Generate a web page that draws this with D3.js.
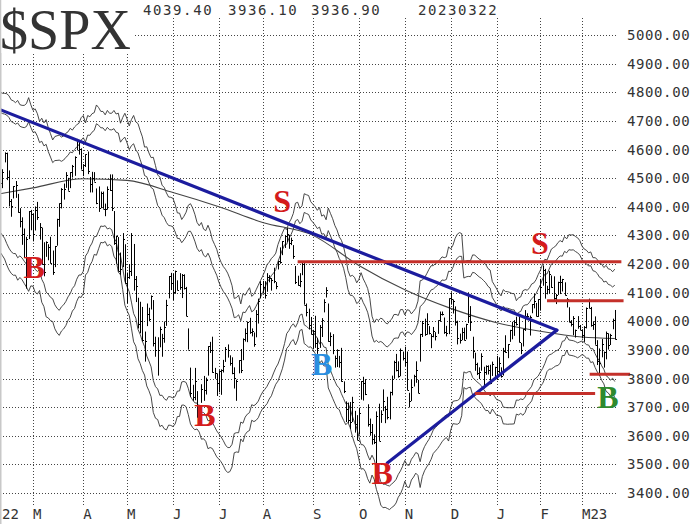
<!DOCTYPE html>
<html><head><meta charset="utf-8">
<script src="https://cdn.jsdelivr.net/npm/d3@7"></script>
<style>body{margin:0;background:#fff}</style>
</head><body><svg id="c" width="700" height="524"></svg>
<script>
// Daily HLC, trading days from 2022-01-03 to 2023-03-22
const monthLabels = ["J22","22","M","A","M","J","J","A","S","O","N","D","J","F","M23"];
const monthDays   = [20,19,23,20,21,21,20,23,21,21,21,21,20,19,16];
const closes = [
4797,4794,4701,4696,4677,4670,4713,4726,4660,4663,4577,4533,4483,4398,4410,4357,4350,4326,4432,4516,
4546,4589,4477,4501,4484,4521,4587,4504,4419,4401,4472,4475,4380,4349,4304,4226,4288,4385,4374,
4306,4387,4363,4329,4201,4171,4278,4260,4204,4173,4262,4358,4412,4463,4461,4512,4456,4520,4543,4575,4632,4602,4530,
4546,4583,4525,4481,4500,4488,4413,4397,4447,4393,4391,4463,4460,4394,4272,4297,4175,4183,4288,4132,
4155,4175,4300,4147,4123,3991,4001,3935,3930,4024,4008,4088,3924,3901,3901,3974,3941,3979,4058,4158,4132,
4101,4177,4109,4121,4161,4116,4018,3901,3750,3735,3790,3667,3675,3765,3760,3796,3912,3900,3821,3819,3785,
3825,3831,3845,3903,3899,3855,3819,3801,3790,3863,3831,3937,3960,3999,3962,3967,3921,4024,4072,4130,
4119,4091,4155,4152,4145,4140,4122,4210,4208,4280,4297,4305,4275,4284,4228,4138,4128,4141,4199,4058,4031,3986,3955,
3967,3924,3908,3980,4006,4067,4110,3932,3947,3901,3873,3900,3856,3790,3758,3693,3655,3647,3719,3640,3586,
3678,3791,3783,3745,3640,3612,3589,3577,3669,3583,3677,3720,3695,3666,3752,3797,3859,3831,3807,3901,3872,
3856,3759,3720,3771,3807,3828,3749,3956,3993,3957,3992,3959,3947,3965,3950,4003,4027,4026,3964,3958,4080,
4077,4072,3999,3941,3933,3963,3934,3991,4020,3996,3896,3852,3818,3821,3879,3822,3845,3829,3783,3849,3840,
3825,3853,3808,3895,3893,3919,3970,3983,3999,3991,3928,3899,3973,4020,4017,4016,4060,4071,4018,4077,
4119,4180,4136,4111,4164,4118,4082,4090,4137,4136,4148,4090,4079,3997,3991,4012,3970,3982,3970,
3951,3981,4046,4048,3986,3992,3918,3862,3855,3920,3892,3960,3917,3951,4003,3936.9];
const highs = [
4797,4819,4798,4725,4708,4672,4714,4749,4745,4666,4632,4612,4564,4495,4418,4405,4453,4428,4432,4517,
4546,4595,4543,4529,4540,4531,4590,4589,4527,4427,4472,4490,4445,4395,4363,4324,4295,4385,4389,
4375,4401,4417,4343,4327,4276,4279,4269,4295,4247,4263,4358,4412,4465,4481,4521,4501,4521,4546,4576,4637,4627,4604,
4549,4583,4593,4504,4522,4521,4464,4471,4453,4453,4411,4471,4513,4513,4385,4299,4294,4240,4308,4269,
4170,4200,4308,4270,4158,4082,4068,4050,3964,4062,4047,4090,4074,3946,3944,3981,3956,3999,4075,4158,4169,
4166,4177,4143,4168,4165,4164,4120,3975,3838,3778,3837,3756,3708,3780,3809,3803,3913,3928,3946,3837,3818,
3829,3832,3865,3910,3919,3881,3874,3839,3796,3864,3903,3940,3975,3999,4012,3975,3961,4039,4079,4140,
4141,4140,4168,4161,4151,4187,4137,4211,4258,4280,4301,4325,4302,4292,4266,4193,4159,4168,4204,4203,4062,4044,4015,
3970,4019,3942,3987,4011,4077,4119,4062,3961,3955,3880,3902,3879,3907,3790,3720,3716,3718,3736,3687,3672,
3698,3791,3806,3798,3710,3660,3641,3605,3685,3712,3689,3762,3704,3736,3754,3810,3862,3886,3860,3905,3894,
3911,3894,3750,3796,3813,3860,3795,3956,4001,4009,4028,3983,3955,3980,3962,4003,4034,4034,4013,3984,4080,
4101,4076,4052,4002,3957,3977,3978,3991,4101,4053,3946,3890,3855,3839,3888,3841,3846,3846,3848,3859,3841,
3879,3874,3839,3907,3951,3920,3970,3998,4004,4016,4015,3924,3973,4039,4028,4020,4060,4095,4064,4077,
4148,4195,4183,4124,4176,4160,4157,4095,4138,4159,4148,4136,4081,4049,4004,4018,3971,4018,3987,
3972,3983,4048,4079,4050,4000,4017,3934,3905,3938,3894,3964,3958,3956,4009,4039.4];
const lows = [
4758,4774,4700,4671,4663,4582,4637,4709,4660,4615,4569,4531,4480,4395,4222,4351,4305,4309,4287,4417,
4484,4545,4470,4451,4475,4465,4555,4493,4401,4365,4429,4431,4379,4328,4267,4222,4114,4287,4318,
4279,4317,4354,4285,4199,4157,4225,4213,4202,4162,4189,4264,4330,4394,4425,4466,4456,4465,4502,4508,4597,4582,4530,
4507,4539,4514,4450,4450,4488,4409,4382,4395,4393,4367,4390,4455,4385,4267,4201,4175,4162,4189,4132,
4063,4148,4158,4107,4067,3975,3958,3929,3859,3983,4000,4041,3912,3876,3810,3909,3876,3925,3984,4080,4109,
4074,4096,4108,4110,4081,4111,4018,3901,3735,3722,3724,3664,3640,3715,3722,3744,3810,3889,3820,3799,3739,
3752,3743,3821,3858,3873,3845,3815,3765,3722,3818,3819,3864,3929,3927,3956,3947,3911,3944,3992,4080,
4097,4079,4103,4136,4107,4133,4112,4181,4201,4231,4256,4277,4253,4266,4218,4130,4124,4119,4161,4058,4017,3971,3954,
3904,3907,3886,3907,3945,4031,4083,3928,3913,3885,3838,3840,3838,3789,3749,3648,3645,3624,3648,3611,3585,
3604,3726,3723,3742,3632,3600,3569,3571,3491,3582,3645,3686,3644,3657,3657,3741,3799,3825,3803,3808,3863,
3843,3759,3699,3721,3772,3785,3749,3859,3945,3949,3953,3954,3906,3944,3933,3956,3998,4020,3956,3947,3955,
4058,4027,3985,3919,3922,3934,3933,3937,3994,3966,3870,3827,3812,3798,3827,3765,3813,3814,3780,3809,3801,
3795,3819,3803,3810,3890,3871,3928,3937,3949,3985,3926,3885,3912,3966,4004,3950,4028,4045,4017,4015,
4037,4124,4079,4094,4097,4117,4070,4060,4092,4095,4104,4090,4048,3997,3982,3951,3943,3974,3969,
3940,3928,3975,4045,3981,3970,3918,3847,3809,3874,3838,3867,3901,3917,3972,3936.1];
const lastDate = "20230322";
const priceTicks = d3.range(3400, 5001, 100);
// 200-day moving average read at each month start (F22..M23) and at the last day
const ma200 = [4440,4466,4498,4492,4450,4400,4345,4300,4195,4110,4045,3995,3965,3945,3940];
// Volatility bands: sigma multiples around the 20-day average
const bandSigmas = [4, 3, -3, -4];
// Trend lines: [trading-day index, price]
const trendLines = [[[23,4742],[278.5,3969]], [[201,3505],[278.5,3969]]];
// Horizontal levels: [fromIndex, toIndex, price]
const levels = [[160,308,4208],[274,309,4072],[293.5,312,3815],[241,296,3748]];
// Signals: [letter, index, price, colour]
const signals = [["B",39.5,4190,"#d41c1c"],["S",152.9,4420,"#d41c1c"],["B",171,3851,"#2a8ee0"],
  ["B",117.6,3673,"#d41c1c"],["B",198.6,3470,"#d41c1c"],["S",270.8,4273,"#d41c1c"],["B",301.9,3735,"#2e8a2e"]];

const svg = d3.select("#c");
const x = d3.scaleLinear().domain([39, 290]).range([33, 582]);
const y = d3.scaleLinear().domain([3400, 5000]).range([493, 35]);
const plotRight = 617, gridTop = 18, gridBottom = 505;
const monthStart = [0, ...d3.cumsum(monthDays)].slice(0, monthDays.length);
const lastIdx = closes.length - 1;

svg.append("rect").attr("width",700).attr("height",524).attr("fill","#fff");
svg.append("defs").append("clipPath").attr("id","clip").append("rect")
  .attr("x",0).attr("y",0).attr("width",plotRight+6).attr("height",524);

// grid
const grid = svg.append("g").attr("stroke","#444").attr("stroke-width",1).attr("stroke-dasharray","1,2");
grid.selectAll("line.h").data(priceTicks).join("line")
  .attr("x1",0).attr("x2",plotRight).attr("y1",d=>Math.round(y(d))+0.5).attr("y2",d=>Math.round(y(d))+0.5);
grid.selectAll("line.v").data(monthStart.filter(i=>x(i)>=0)).join("line")
  .attr("x1",d=>Math.round(x(d))+0.5).attr("x2",d=>Math.round(x(d))+0.5).attr("y1",gridTop).attr("y2",gridBottom);

const plot = svg.append("g").attr("clip-path","url(#clip)");

// volatility bands: 20-day average of closes +/- k * (1.22 * 20-day deviation of daily log returns)
const N = 20;
const bandData = bandSigmas.map(k => {
  const pts = [];
  for (let i = N; i <= lastIdx; i++) {
    const m = d3.mean(closes.slice(i-N+1, i+1));
    const rets = d3.range(i-N+1, i+1).map(j => Math.log(closes[j]/closes[j-1]));
    const s = d3.deviation(rets) * 1.22;
    pts.push([i, m * (1 + k*s)]);
  }
  return pts;
});
const lineGen = d3.line().x(d=>x(d[0])).y(d=>y(d[1]));
plot.selectAll("path.band").data(bandData).join("path")
  .attr("fill","none").attr("stroke","#333").attr("stroke-width",0.9).attr("d",lineGen);

// 200-day MA
const maPts = ma200.map((v,j)=> [j < ma200.length-1 ? monthStart[j+1] : lastIdx, v]);
plot.append("path").datum(maPts).attr("fill","none").attr("stroke","#444").attr("stroke-width",1.1)
  .attr("d", d3.line().x(d=>x(d[0])).y(d=>y(d[1])).curve(d3.curveMonotoneX));

// HLC bars
const idx = d3.range(0, closes.length).filter(i => x(i) >= -1);
const bars = plot.append("g").attr("stroke","#000").attr("stroke-width",1);
bars.selectAll("line.hl").data(idx).join("line")
  .attr("x1",i=>Math.round(x(i))+0.5).attr("x2",i=>Math.round(x(i))+0.5)
  .attr("y1",i=>y(highs[i])).attr("y2",i=>y(lows[i]));
bars.selectAll("line.c").data(idx).join("line")
  .attr("x1",i=>Math.round(x(i))+0.5).attr("x2",i=>Math.round(x(i))+2)
  .attr("y1",i=>Math.round(y(closes[i]))+0.5).attr("y2",i=>Math.round(y(closes[i]))+0.5);

// trend lines
plot.selectAll("line.trend").data(trendLines).join("line")
  .attr("x1",d=>x(d[0][0])).attr("y1",d=>y(d[0][1])).attr("x2",d=>x(d[1][0])).attr("y2",d=>y(d[1][1]))
  .attr("stroke","#1c1c9e").attr("stroke-width",3.2).attr("stroke-linecap","round");

// horizontal levels
svg.selectAll("line.lvl").data(levels).join("line")
  .attr("x1",d=>x(d[0])).attr("x2",d=>x(d[1])).attr("y1",d=>y(d[2])).attr("y2",d=>y(d[2]))
  .attr("stroke","#c4302a").attr("stroke-width",3);

// signal letters
svg.selectAll("text.sig").data(signals).join("text")
  .attr("x",d=>x(d[1])).attr("y",d=>y(d[2]))
  .attr("text-anchor","middle").attr("dominant-baseline","central")
  .attr("font-family","'Liberation Serif','DejaVu Serif',serif").attr("font-weight","bold")
  .attr("font-size",32).attr("fill",d=>d[3]).text(d=>d[0]);

// left border
svg.append("rect").attr("x",0).attr("y",0).attr("width",1.5).attr("height",524).attr("fill","#c8c8c8");

// title
svg.append("rect").attr("x",1.5).attr("y",0).attr("width",132).attr("height",53).attr("fill","#fff");
svg.append("text").attr("x",0).attr("y",49).attr("font-family","'Liberation Serif',serif")
  .attr("font-size",56).attr("fill","#333").attr("textLength",131).text("$SPX");
svg.append("rect").attr("x",134).attr("y",0).attr("width",480).attr("height",gridTop).attr("fill","#fff");

// header values
const mono = "'DejaVu Sans Mono',monospace";
const header = [highs[lastIdx].toFixed(2), lows[lastIdx].toFixed(2), closes[lastIdx].toFixed(2), lastDate];
const headerX = [143, 228, 311, 418];
svg.selectAll("text.hdr").data(header).join("text")
  .attr("x",(d,i)=>headerX[i]).attr("y",15).attr("font-family",mono).attr("font-size",14)
  .attr("letter-spacing",1.6).attr("fill","#333").text(d=>d);

// y labels
svg.selectAll("text.yl").data(priceTicks).join("text")
  .attr("x",627).attr("y",d=>y(d)).attr("dominant-baseline","central")
  .attr("font-family",mono).attr("font-size",14).attr("letter-spacing",0.6).attr("fill","#333")
  .text(d=>d.toFixed(2));

// x labels (labels of months that start left of the plot are pinned to its edge)
svg.selectAll("text.xl").data(monthStart.map((s,i)=>[s,monthLabels[i]]).filter(d=>x(d[0])>-20)).join("text")
  .attr("x",d=>Math.max(2, x(d[0]))).attr("y",514).attr("dominant-baseline","central")
  .attr("font-family",mono).attr("font-size",14).attr("fill","#333").text(d=>d[1]);
</script>
</body></html>
